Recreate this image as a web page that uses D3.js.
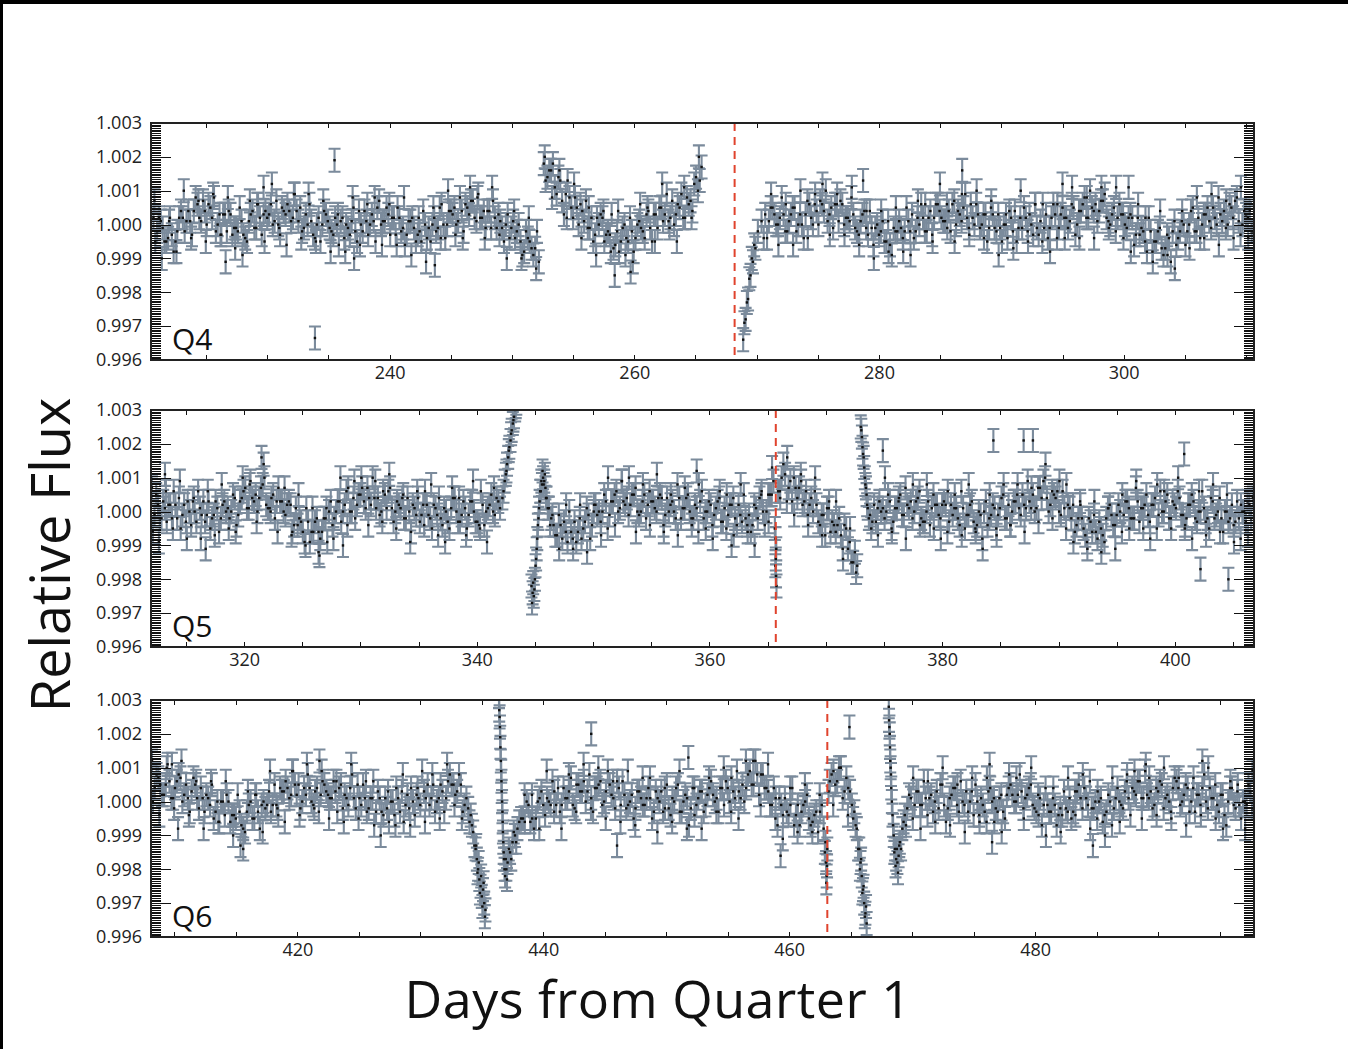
<!DOCTYPE html>
<html>
<head>
<meta charset="utf-8">
<script src="https://cdn.jsdelivr.net/npm/d3@7/dist/d3.min.js"></script>
<style>
    body { margin: 0; background: #fff; }
    svg { display: block; font-family: "Open Sans", sans-serif; }
</style>
</head>
<body>
<div id="chart"></div>
<script>

// [day, relative flux]
var q4Points = [
    [220.7,1.0002],[221.0,0.9998],[221.3,1.0001],[221.6,0.9995],[221.9,0.9996],[222.2,0.9997],[222.5,0.9995],[222.8,1.0002],
    [223.1,1.0002],[223.4,1.0001],[223.7,1.0001],[224.0,1.0004],[224.3,1.0006],[224.6,1.0001],[224.9,1.0004],[225.2,1.0006],
    [225.5,1.0002],[225.8,0.9998],[226.1,1.0003],[226.4,1.0003],[226.7,0.9998],[227.0,1.0003],[227.3,0.9999],[227.6,0.9998],
    [227.9,1.0001],[228.2,0.9996],[228.5,1.0001],[228.8,1.0004],[229.1,0.9999],[229.4,1.0002],[229.7,1.0003],[230.0,1.0002],
    [230.3,1.0006],[230.6,1.0001],[230.9,1.0000],[231.2,1.0005],[231.5,1.0003],[231.8,1.0004],[232.1,1.0002],[232.4,1.0004],
    [232.7,1.0005],[233.0,0.9999],[233.3,1.0000],[233.6,1.0001],[233.9,0.9996],[234.2,1.0002],[234.5,1.0000],[234.8,1.0003],
    [235.1,0.9999],[235.4,0.9997],[235.7,1.0000],[236.0,1.0001],[236.3,0.9996],[236.6,0.9999],[236.9,1.0001],[237.2,0.9998],
    [237.5,1.0004],[237.8,0.9998],[238.1,1.0001],[238.4,1.0000],[238.7,1.0001],[239.0,1.0005],[239.3,1.0000],[239.6,1.0001],
    [239.9,1.0003],[240.2,1.0002],[240.5,0.9997],[240.8,1.0002],[241.1,0.9999],[241.4,0.9997],[241.7,1.0001],[242.0,0.9999],
    [242.3,0.9997],[242.6,0.9995],[242.9,1.0000],[243.2,0.9999],[243.5,1.0000],[243.8,0.9998],[244.1,1.0005],[244.4,1.0000],
    [244.7,1.0000],[245.0,1.0004],[245.3,1.0005],[245.6,1.0001],[245.9,1.0004],[246.2,1.0006],[246.5,1.0003],[246.8,1.0007],
    [247.1,1.0001],[247.4,1.0002],[247.7,1.0004],[248.0,1.0004],[248.3,0.9999],[248.6,1.0002],[248.9,1.0003],[249.2,0.9999],
    [249.5,1.0000],[249.8,0.9996],[250.1,1.0001],[250.4,0.9998],[250.7,0.9995],[251.0,0.9992],[251.3,0.9996],[251.6,0.9993],
    [251.9,0.9993],[252.2,0.9989],
    [252.6,1.0018],[252.9,1.0014],[253.2,1.0016],[253.5,1.0011],[253.8,1.0014],[254.1,1.0007],[254.4,1.0009],[254.7,1.0008],
    [255.0,1.0002],[255.3,1.0005],[255.6,1.0006],[255.9,1.0001],[256.2,0.9999],[256.5,1.0002],[256.8,0.9997],[257.1,1.0000],
    [257.4,1.0002],[257.7,0.9997],[258.0,0.9997],[258.3,0.9993],[258.6,0.9998],[258.9,0.9995],[259.2,1.0000],[259.5,0.9995],
    [259.8,0.9998],[260.1,0.9996],[260.4,1.0001],[260.7,0.9998],[261.0,1.0003],[261.3,0.9999],[261.6,1.0003],[261.9,0.9999],
    [262.2,1.0005],[262.5,1.0003],[262.8,1.0001],[263.1,1.0007],[263.4,1.0003],[263.7,1.0005],[264.0,1.0002],[264.3,1.0008],
    [264.6,1.0007],[264.9,1.0012],[265.2,1.0010],[265.5,1.0017],
    [268.9,0.9966],[269.0,0.9971],[269.1,0.9972],[269.2,0.9977],[269.3,0.9978],[269.4,0.9984],[269.5,0.9985],[269.6,0.9990],
    [269.7,0.9989],[269.8,0.9994],[269.9,0.9993],[270.1,0.9998],[270.4,1.0001],
    [270.7,1.0003],[271.0,1.0001],[271.3,1.0005],[271.6,1.0000],[271.9,1.0002],[272.2,1.0003],[272.5,0.9998],[272.8,1.0003],
    [273.1,1.0005],[273.4,1.0000],[273.7,1.0000],[274.0,1.0003],[274.3,1.0006],[274.6,1.0000],[274.9,1.0004],[275.2,1.0007],
    [275.5,1.0004],[275.8,1.0001],[276.1,1.0005],[276.4,1.0006],[276.7,1.0001],[277.0,1.0006],[277.3,1.0002],[277.6,1.0001],
    [277.9,1.0003],[278.2,0.9998],[278.5,1.0001],[278.8,1.0004],[279.1,0.9997],[279.4,0.9999],[279.7,0.9999],[280.0,0.9997],
    [280.3,1.0001],[280.6,0.9995],[280.9,0.9994],[281.2,0.9999],[281.5,0.9998],[281.8,0.9999],[282.1,0.9998],[282.4,1.0001],
    [282.7,1.0003],[283.0,0.9998],[283.3,1.0000],[283.6,1.0002],[283.9,0.9998],[284.2,1.0004],[284.5,1.0002],[284.8,1.0006],
    [285.1,1.0002],[285.4,1.0001],[285.7,1.0004],[286.0,1.0006],[286.3,1.0000],[286.6,1.0003],[286.9,1.0005],[287.2,1.0002],
    [287.5,1.0006],[287.8,1.0000],[288.1,1.0003],[288.4,1.0000],[288.7,1.0003],[289.0,0.9999],[289.3,1.0003],[289.6,0.9998],
    [289.9,0.9999],[290.2,1.0000],[290.5,0.9996],[290.8,1.0002],[291.1,1.0004],[291.4,0.9999],[291.7,0.9999],[292.0,1.0002],
    [292.3,1.0003],[292.6,0.9997],[292.9,0.9999],[293.2,1.0001],[293.5,0.9999],[293.8,0.9996],[294.1,1.0002],[294.4,1.0003],
    [294.7,0.9999],[295.0,1.0005],[295.3,1.0002],[295.6,1.0001],[295.9,1.0005],[296.2,1.0000],[296.5,1.0004],[296.8,1.0008],
    [297.1,1.0002],[297.4,1.0005],[297.7,1.0006],[298.0,1.0004],[298.3,1.0007],[298.6,1.0002],[298.9,1.0000],[299.2,1.0005],
    [299.5,1.0002],[299.8,1.0003],[300.1,1.0000],[300.4,1.0002],[300.7,1.0002],[301.0,0.9997],[301.3,0.9997],[301.6,0.9998],
    [301.9,0.9992],[302.2,0.9998],[302.5,0.9995],[302.8,0.9998],[303.1,0.9993],[303.4,0.9993],[303.7,0.9996],[304.0,0.9998],
    [304.3,0.9994],[304.6,0.9998],[304.9,1.0000],[305.2,0.9998],[305.5,1.0004],[305.8,0.9998],[306.1,1.0002],[306.4,1.0000],
    [306.7,1.0003],[307.0,1.0001],[307.3,1.0005],[307.6,1.0000],[307.9,1.0003],[308.2,1.0004],[308.5,1.0000],[308.8,1.0005],
    [309.1,1.0007],[309.4,1.0001],[309.7,1.0000],[310.0,1.0003],[310.3,1.0004],[310.6,0.9998],
    // interleaved cadence
    [220.85,0.9995],[221.15,1.0002],[221.45,0.9999],[221.75,0.9995],[222.05,1.0002],[222.35,0.9992],[222.65,0.9998],[222.95,1.0004],
    [223.25,0.9998],[223.55,1.0004],[223.85,0.9997],[224.15,1.0008],[224.45,1.0002],[224.75,1.0007],[225.05,1.0000],[225.35,1.0005],
    [225.65,1.0008],[225.95,1.0000],[226.25,0.9997],[226.55,1.0003],[226.85,1.0004],[227.15,0.9997],[227.45,0.9999],[227.75,1.0005],
    [228.05,0.9997],[228.35,0.9995],[228.65,1.0003],[228.95,0.9999],[229.25,1.0006],[229.55,0.9997],[229.85,1.0004],[230.15,1.0003],
    [230.45,1.0000],[230.75,1.0007],[231.05,0.9997],[231.35,1.0004],[231.65,1.0006],[231.95,1.0001],[232.25,1.0009],[232.55,1.0001],
    [232.85,0.9998],[233.15,1.0003],[233.45,1.0006],[233.75,0.9997],[234.05,1.0000],[234.35,0.9995],[234.65,1.0004],[234.95,1.0001],
    [235.25,0.9998],[235.55,1.0002],[235.85,0.9994],[236.15,1.0002],[236.45,1.0000],[236.75,0.9997],[237.05,1.0005],[237.35,0.9995],
    [237.65,1.0000],[237.95,1.0004],[238.25,0.9997],[238.55,1.0003],[238.85,0.9995],[239.15,1.0007],[239.45,1.0001],[239.75,1.0005],
    [240.05,0.9997],[240.35,1.0002],[240.65,1.0005],[240.95,0.9998],[241.25,0.9994],[241.55,1.0001],[241.85,1.0002],[242.15,0.9995],
    [242.45,0.9998],[242.75,1.0004],[243.05,0.9996],[243.35,0.9995],[243.65,1.0002],[243.95,0.9999],[244.25,1.0006],[244.55,0.9996],
    [244.85,1.0004],[245.15,1.0003],[245.45,1.0000],[245.75,1.0008],[246.05,0.9998],[246.35,1.0005],[246.65,1.0007],[246.95,1.0002],
    [247.25,1.0009],[247.55,1.0002],[247.85,0.9999],[248.15,1.0004],[248.45,1.0007],[248.75,0.9999],[249.05,1.0001],[249.35,0.9995],
    [249.65,1.0003],[249.95,0.9999],[250.25,0.9996],[250.55,1.0000],[250.85,0.9991],[251.15,0.9998],[251.45,0.9995],[251.75,0.9991],
    [252.05,0.9998],
    [252.75,1.0013],[253.05,1.0016],[253.35,1.0018],[253.65,1.0009],[253.95,1.0013],[254.25,1.0003],[254.55,1.0013],[254.85,1.0005],
    [255.15,1.0008],[255.45,1.0000],[255.75,1.0004],[256.05,1.0007],[256.35,0.9999],[256.65,0.9995],[256.95,1.0002],[257.25,1.0003],
    [257.55,0.9995],[257.85,0.9998],[258.15,1.0003],[258.45,0.9994],[258.75,0.9992],[259.05,0.9999],[259.35,0.9996],[259.65,1.0002],
    [259.95,0.9992],[260.25,1.0000],[260.55,0.9999],[260.85,0.9996],[261.15,1.0004],[261.45,0.9995],[261.75,1.0003],[262.05,1.0005],
    [262.35,1.0001],[262.65,1.0009],[262.95,1.0002],[263.25,1.0000],[263.55,1.0006],[263.85,1.0009],[264.15,1.0002],[264.45,1.0006],
    [264.75,1.0004],[265.05,1.0014],[265.35,1.0013],
    [270.85,0.9996],[271.15,1.0005],[271.45,1.0003],[271.75,1.0000],[272.05,1.0008],[272.35,0.9998],[272.65,1.0001],[272.95,1.0005],
    [273.25,0.9998],[273.55,1.0003],[273.85,0.9996],[274.15,1.0007],[274.45,1.0002],[274.75,1.0006],[275.05,1.0000],[275.35,1.0006],
    [275.65,1.0010],[275.95,1.0003],[276.25,0.9999],[276.55,1.0006],[276.85,1.0007],[277.15,1.0000],[277.45,1.0002],[277.75,1.0008],
    [278.05,0.9999],[278.35,0.9997],[278.65,1.0003],[278.95,0.9999],[279.25,1.0004],[279.55,0.9994],[279.85,1.0000],[280.15,0.9998],
    [280.45,0.9995],[280.75,1.0001],[281.05,0.9991],[281.35,0.9998],[281.65,1.0001],[281.95,0.9996],[282.25,1.0005],[282.55,0.9998],
    [282.85,0.9996],[283.15,1.0002],[283.45,1.0006],[283.75,0.9998],[284.05,1.0002],[284.35,0.9997],[284.65,1.0006],[284.95,1.0004],
    [285.25,1.0001],[285.55,1.0006],[285.85,0.9998],[286.15,1.0007],[286.45,1.0004],[286.75,1.0001],[287.05,1.0009],[287.35,0.9999],
    [287.65,1.0002],[287.95,1.0006],[288.25,0.9999],[288.55,1.0003],[288.85,0.9995],[289.15,1.0005],[289.45,0.9999],[289.75,1.0003],
    [290.05,0.9995],[290.35,1.0000],[290.65,1.0004],[290.95,0.9998],[291.25,0.9995],[291.55,1.0002],[291.85,1.0005],[292.15,0.9998],
    [292.45,1.0000],[292.75,1.0006],[293.05,0.9997],[293.35,0.9995],[293.65,1.0003],[293.95,0.9999],[294.25,1.0006],[294.55,0.9996],
    [294.85,1.0003],[295.15,1.0002],[295.45,0.9999],[295.75,1.0006],[296.05,0.9997],[296.35,1.0004],[296.65,1.0006],[296.95,1.0002],
    [297.25,1.0010],[297.55,1.0004],[297.85,1.0001],[298.15,1.0007],[298.45,1.0009],[298.75,1.0001],[299.05,1.0003],[299.35,0.9998],
    [299.65,1.0006],[299.95,1.0003],[300.25,0.9999],[300.55,1.0003],[300.85,0.9994],[301.15,1.0002],[301.45,0.9999],[301.75,0.9995],
    [302.05,1.0002],[302.35,0.9992],[302.65,0.9995],[302.95,0.9999],[303.25,0.9991],[303.55,0.9997],[303.85,0.9989],[304.15,1.0001],
    [304.45,0.9996],[304.75,1.0001],[305.05,0.9994],[305.35,1.0000],[305.65,1.0005],[305.95,0.9998],[306.25,0.9996],[306.55,1.0003],
    [306.85,1.0005],[307.15,0.9999],[307.45,1.0002],[307.75,1.0008],[308.05,1.0001],[308.35,0.9999],[308.65,1.0006],[308.95,1.0002],
    [309.25,1.0008],[309.55,0.9997],[309.85,1.0004],[310.15,1.0002],[310.45,0.9998],
    // wider scatter
    [220.78,1.0007],[221.38,0.9990],[221.98,1.0001],[222.58,0.9992],[223.18,1.0010],[223.78,0.9996],[224.38,1.0007],[224.98,0.9995],
    [225.58,1.0009],[226.18,0.9997],[226.78,1.0008],[227.38,0.9993],[227.98,0.9991],[228.58,1.0007],[229.18,1.0006],[229.78,0.9995],
    [230.38,1.0012],[230.98,0.9999],[231.58,0.9994],[232.18,1.0009],[232.78,0.9996],[233.38,1.0009],[233.98,0.9995],[234.58,1.0007],
    [235.18,0.9992],[235.78,1.0003],[236.38,0.9992],[236.98,1.0008],[237.58,0.9994],[238.18,1.0006],[238.78,1.0008],[239.38,0.9994],
    [239.98,1.0006],[240.58,0.9994],[241.18,1.0008],[241.78,0.9991],[242.38,1.0002],[242.98,0.9989],[243.58,1.0005],[244.18,0.9996],
    [244.78,1.0010],[245.38,0.9997],[245.98,0.9996],[246.58,1.0011],[247.18,1.0008],[247.78,0.9996],[248.38,1.0011],[248.98,0.9997],
    [249.58,0.9990],[250.18,1.0004],[250.78,0.9990],[251.38,1.0002],[251.98,0.9987],
    [252.68,1.0020],[253.28,1.0008],[253.88,1.0016],[254.48,1.0002],[255.08,1.0012],[255.68,0.9996],[256.28,1.0005],[256.88,0.9991],
    [257.48,1.0004],[258.08,0.9992],[258.68,1.0004],[259.28,0.9991],[259.88,0.9989],[260.48,1.0006],[261.08,1.0005],[261.68,0.9995],
    [262.28,1.0012],[262.88,0.9999],[263.48,0.9995],[264.08,1.0011],[264.68,1.0002],[265.28,1.0020],
    [270.58,0.9996],[271.18,1.0009],[271.78,0.9994],[272.38,1.0006],[272.98,0.9994],[273.58,1.0010],[274.18,0.9996],[274.78,1.0009],
    [275.38,1.0012],[275.98,0.9997],[276.58,1.0009],[277.18,0.9997],[277.78,1.0011],[278.38,0.9994],[278.98,1.0004],[279.58,0.9990],
    [280.18,1.0004],[280.78,0.9992],[281.38,1.0005],[281.98,0.9992],[282.58,0.9991],[283.18,1.0007],[283.78,1.0006],[284.38,0.9995],
    [284.98,1.0012],[285.58,0.9999],[286.18,0.9995],[286.78,1.0009],[287.38,0.9997],[287.98,1.0010],[288.58,0.9996],[289.18,1.0007],
    [289.78,0.9991],[290.38,1.0003],[290.98,0.9993],[291.58,1.0010],[292.18,0.9995],[292.78,1.0006],[293.38,1.0006],[293.98,0.9992],
    [294.58,1.0006],[295.18,0.9996],[295.78,1.0011],[296.38,0.9996],[296.98,1.0008],[297.58,0.9996],[298.18,1.0011],[298.78,0.9999],
    [299.38,1.0011],[299.98,0.9996],[300.58,0.9992],[301.18,1.0006],[301.78,1.0002],[302.38,0.9989],[302.98,1.0004],[303.58,0.9991],
    [304.18,0.9987],[304.78,1.0004],[305.38,0.9993],[305.98,1.0008],[306.58,0.9996],[307.18,1.0009],[307.78,0.9994],[308.38,1.0007],
    [308.98,0.9996],[309.58,1.0011],[310.18,0.9996],
    // isolated points
    [233.9,0.99665],[235.5,1.0019],[258.4,0.9985],[259.7,0.9986],[278.7,1.0013],[286.8,1.0016],[295.0,1.0012],
    [300.4,1.0011],[226.6,0.9989],[237.1,0.9990],[243.7,0.9988],[229.7,1.0011]
];

var q5Points = [
    [312.0,1.0002],[312.3,0.9999],[312.6,1.0002],[312.9,0.9998],[313.2,1.0001],[313.5,1.0002],[313.8,0.9998],[314.1,1.0002],
    [314.4,1.0004],[314.7,0.9999],[315.0,0.9997],[315.3,1.0000],[315.6,1.0003],[315.9,0.9997],[316.2,1.0001],[316.5,1.0003],
    [316.8,0.9999],[317.1,0.9995],[317.4,0.9999],[317.7,1.0001],[318.0,0.9998],[318.3,1.0003],[318.6,1.0001],[318.9,1.0000],
    [319.2,1.0004],[319.5,0.9999],[319.8,1.0004],[320.1,1.0007],[320.4,1.0001],[320.7,1.0004],[321.0,1.0005],[321.3,1.0004],
    [321.6,1.0008],[321.9,1.0002],[322.2,1.0001],[322.5,1.0005],[322.8,1.0003],[323.1,1.0003],[323.4,1.0000],[323.7,1.0002],
    [324.0,1.0002],[324.3,0.9996],[324.6,0.9996],[324.9,0.9997],[325.2,0.9991],[325.5,0.9997],[325.8,0.9994],[326.1,0.9997],
    [326.4,0.9994],[326.7,0.9994],[327.0,0.9998],[327.3,1.0000],[327.6,0.9996],[327.9,1.0000],[328.2,1.0003],[328.5,1.0000],
    [328.8,1.0006],[329.1,1.0000],[329.4,1.0004],[329.7,1.0002],[330.0,1.0005],[330.3,1.0003],[330.6,1.0007],[330.9,1.0002],
    [331.2,1.0004],[331.5,1.0004],[331.8,1.0000],[332.1,1.0005],[332.4,1.0006],[332.7,1.0001],[333.0,1.0000],[333.3,1.0002],
    [333.6,1.0004],[333.9,0.9998],[334.2,1.0000],[334.5,1.0002],[334.8,0.9999],[335.1,0.9997],[335.4,1.0002],[335.7,1.0002],
    [336.0,0.9998],[336.3,1.0002],[336.6,0.9999],[336.9,0.9998],[337.2,1.0001],[337.5,0.9997],[337.8,1.0001],[338.1,1.0004],
    [338.4,0.9997],[338.7,0.9999],[339.0,1.0001],[339.3,0.9999],[339.6,1.0003],[339.9,0.9997],[340.2,0.9996],[340.5,1.0002],
    [340.8,1.0000],[341.1,1.0002],[341.4,1.0000],[341.7,1.0004],[342.0,1.0001],[342.2,1.0004],[342.4,1.0009],[342.5,1.0011],
    [342.6,1.0014],[342.7,1.0016],[342.8,1.0019],[342.9,1.0021],[343.0,1.0024],[343.1,1.0026],[343.2,1.0028],[343.3,1.0030],
    [343.4,1.0032],[343.5,1.0034],
    [344.7,0.9978],[344.8,0.9976],[344.9,0.9975],[345.0,0.9980],[345.1,0.9986],[345.2,0.9992],[345.3,0.9998],[345.4,1.0003],
    [345.5,1.0006],[345.6,1.0008],[345.7,1.0010],[345.8,1.0009],[345.9,1.0007],[346.0,1.0004],[346.2,1.0001],[346.4,0.9998],
    [346.6,0.9996],
    [346.9,0.9993],[347.2,0.9996],[347.5,0.9997],[347.8,0.9991],[348.1,0.9994],[348.4,0.9997],[348.7,0.9994],[349.0,0.9992],
    [349.3,0.9997],[349.6,0.9999],[349.9,0.9996],[350.2,1.0002],[350.5,1.0000],[350.8,1.0000],[351.1,1.0003],[351.4,0.9999],
    [351.7,1.0003],[352.0,1.0006],[352.3,1.0001],[352.6,1.0003],[352.9,1.0004],[353.2,1.0002],[353.5,1.0005],[353.8,1.0000],
    [354.1,1.0000],[354.4,1.0005],[354.7,1.0002],[355.0,1.0003],[355.3,1.0001],[355.6,1.0004],[355.9,1.0004],[356.2,0.9999],
    [356.5,1.0000],[356.8,1.0003],[357.1,0.9998],[357.4,1.0004],[357.7,1.0001],[358.0,1.0004],[358.3,1.0000],[358.6,0.9998],
    [358.9,1.0001],[359.2,1.0003],[359.5,0.9998],[359.8,1.0000],[360.1,1.0002],[360.4,0.9999],[360.7,1.0003],[361.0,0.9997],
    [361.3,1.0001],[361.6,0.9999],[361.9,1.0002],[362.2,0.9998],[362.5,1.0002],[362.8,0.9997],[363.1,0.9998],[363.4,0.9999],
    [363.7,0.9996],[364.0,1.0001],[364.3,1.0004],[364.6,1.0000],[364.9,1.0000],[365.2,1.0005],[365.5,1.0009],
    [365.68,0.9992],[365.70,0.9986],[365.72,0.9981],[365.74,0.9989],
    [365.9,1.0006],[366.2,1.0010],[366.5,1.0011],[366.8,1.0007],[367.1,1.0003],[367.4,1.0007],[367.7,1.0007],[368.0,1.0002],
    [368.3,1.0006],[368.6,1.0002],[368.9,1.0000],[369.2,1.0002],[369.5,0.9996],[369.8,0.9999],[370.1,1.0001],[370.4,0.9994],
    [370.7,0.9996],[371.0,0.9996],[371.3,0.9993],[371.6,0.9996],[371.9,0.9989],[372.2,0.9985],[372.5,0.9988],[372.7,0.9984],
    [373.0,1.0025],[373.1,1.0022],[373.2,1.0017],[373.3,1.0013],[373.4,1.0008],[373.5,1.0005],[373.6,1.0001],[373.8,0.9999],
    [374.0,0.9997],
    [374.3,0.9997],[374.6,1.0003],[374.9,1.0001],[375.2,1.0000],[375.5,1.0003],[375.8,0.9997],[376.1,1.0001],[376.4,1.0005],
    [376.7,0.9999],[377.0,1.0002],[377.3,1.0003],[377.6,1.0000],[377.9,1.0004],[378.2,0.9998],[378.5,0.9997],[378.8,1.0003],
    [379.1,1.0001],[379.4,1.0002],[379.7,0.9999],[380.0,1.0002],[380.3,1.0002],[380.6,0.9997],[380.9,0.9999],[381.2,1.0001],
    [381.5,0.9996],[381.8,1.0001],[382.1,0.9999],[382.4,1.0002],[382.7,0.9997],[383.0,0.9996],[383.3,0.9999],[383.6,1.0000],
    [383.9,0.9996],[384.2,0.9999],[384.5,1.0001],[384.8,0.9999],[385.1,1.0004],[385.4,0.9998],[385.7,1.0002],[386.0,1.0000],
    [386.3,1.0003],[386.6,1.0001],[386.9,1.0005],[387.2,1.0001],[387.5,1.0003],[387.8,1.0005],[388.1,1.0001],[388.4,1.0007],
    [388.7,1.0009],[389.0,1.0004],[389.3,1.0002],[389.6,1.0005],[389.9,1.0006],[390.2,0.9999],[390.5,1.0001],[390.8,1.0002],
    [391.1,0.9998],[391.4,0.9994],[391.7,0.9998],[392.0,0.9998],[392.3,0.9993],[392.6,0.9998],[392.9,0.9994],[393.2,0.9994],
    [393.5,0.9997],[393.8,0.9993],[394.1,0.9998],[394.4,1.0002],[394.7,0.9996],[395.0,0.9999],[395.3,1.0000],[395.6,0.9999],
    [395.9,1.0003],[396.2,0.9998],[396.5,0.9998],[396.8,1.0003],[397.1,1.0001],[397.4,1.0002],[397.7,0.9999],[398.0,1.0002],
    [398.3,1.0004],[398.6,0.9999],[398.9,1.0000],[399.2,1.0003],[399.5,0.9998],[399.8,1.0003],[400.1,1.0001],[400.4,1.0004],
    [400.7,0.9999],[401.0,0.9998],[401.3,1.0002],[401.6,1.0003],[401.9,0.9997],[402.2,1.0000],[402.5,1.0001],[402.8,0.9998],
    [403.1,1.0004],[403.4,0.9998],[403.7,1.0000],[404.0,0.9998],[404.3,1.0000],[404.6,0.9997],[404.9,1.0002],[405.2,0.9997],
    [405.5,0.9998],[405.8,1.0000],[406.1,0.9997],[406.4,1.0002],[406.7,1.0004],
    // interleaved cadence
    [312.15,0.9994],[312.45,1.0005],[312.75,0.9998],[313.05,1.0003],[313.35,0.9997],[313.65,1.0002],[313.95,1.0006],[314.25,0.9998],
    [314.55,0.9995],[314.85,1.0002],[315.15,1.0003],[315.45,0.9996],[315.75,1.0000],[316.05,1.0006],[316.35,0.9999],[316.65,0.9997],
    [316.95,1.0003],[317.25,0.9998],[317.55,1.0003],[317.85,0.9994],[318.15,1.0002],[318.45,1.0000],[318.75,0.9998],[319.05,1.0005],
    [319.35,0.9996],[319.65,1.0003],[319.95,1.0006],[320.25,1.0001],[320.55,1.0009],[320.85,1.0003],[321.15,1.0000],[321.45,1.0007],
    [321.75,1.0010],[322.05,1.0001],[322.35,1.0004],[322.65,0.9998],[322.95,1.0007],[323.25,1.0003],[323.55,0.9999],[323.85,1.0003],
    [324.15,0.9994],[324.45,1.0001],[324.75,0.9998],[325.05,0.9994],[325.35,1.0001],[325.65,0.9991],[325.95,0.9994],[326.25,0.9998],
    [326.55,0.9992],[326.85,0.9998],[327.15,0.9991],[327.45,1.0003],[327.75,0.9998],[328.05,1.0003],[328.35,0.9997],[328.65,1.0002],
    [328.95,1.0007],[329.25,1.0000],[329.55,0.9998],[329.85,1.0005],[330.15,1.0007],[330.45,1.0001],[330.75,1.0004],[331.05,1.0010],
    [331.35,1.0001],[331.65,0.9999],[331.95,1.0006],[332.25,1.0001],[332.55,1.0007],[332.85,0.9997],[333.15,1.0003],[333.45,1.0001],
    [333.75,0.9998],[334.05,1.0004],[334.35,0.9994],[334.65,1.0001],[334.95,1.0004],[335.25,0.9999],[335.55,1.0006],[335.85,0.9999],
    [336.15,0.9995],[336.45,1.0001],[336.75,1.0004],[337.05,0.9996],[337.35,1.0000],[337.65,0.9995],[337.95,1.0004],[338.25,1.0000],
    [338.55,0.9997],[338.85,1.0003],[339.15,0.9995],[339.45,1.0003],[339.75,1.0000],[340.05,0.9997],[340.35,1.0006],[340.65,0.9996],
    [340.95,1.0001],[341.25,1.0005],[341.55,0.9999],[341.85,1.0003],
    [342.3,1.0006],[342.55,1.0012],[342.75,1.0018],[342.95,1.0023],[343.15,1.0027],[343.35,1.0031],
    [344.75,0.9973],[344.85,0.9979],[344.95,0.9977],[345.05,0.9984],[345.15,0.9989],[345.25,0.9996],[345.35,1.0001],[345.45,1.0006],
    [345.55,1.0009],[345.65,1.0012],[345.75,1.0008],[345.85,1.0011],[345.95,1.0004],[346.1,1.0001],[346.3,0.9996],[346.5,0.9999],
    [346.75,0.9993],
    [347.05,0.9999],[347.35,0.9992],[347.65,0.9994],[347.95,1.0000],[348.25,0.9992],[348.55,0.9991],[348.85,0.9998],[349.15,0.9995],
    [349.45,1.0001],[349.75,0.9992],[350.05,1.0000],[350.35,0.9999],[350.65,0.9997],[350.95,1.0005],[351.25,0.9995],[351.55,1.0003],
    [351.85,1.0005],[352.15,1.0000],[352.45,1.0009],[352.75,1.0002],[353.05,0.9999],[353.35,1.0005],[353.65,1.0007],[353.95,0.9999],
    [354.25,1.0003],[354.55,0.9998],[354.85,1.0006],[355.15,1.0003],[355.45,1.0000],[355.75,1.0005],[356.05,0.9996],[356.35,1.0004],
    [356.65,1.0002],[356.95,1.0000],[357.25,1.0008],[357.55,0.9998],[357.85,1.0001],[358.15,1.0005],[358.45,0.9998],[358.75,1.0002],
    [359.05,0.9994],[359.35,1.0006],[359.65,1.0000],[359.95,1.0003],[360.25,0.9996],[360.55,1.0001],[360.85,1.0004],[361.15,0.9997],
    [361.45,0.9995],[361.75,1.0002],[362.05,1.0004],[362.35,0.9996],[362.65,0.9999],[362.95,1.0005],[363.25,0.9996],[363.55,0.9994],
    [363.85,1.0002],[364.15,0.9998],[364.45,1.0005],[364.75,0.9996],[365.05,1.0005],[365.35,1.0005],
    [365.62,0.9995],[365.66,0.9984],[365.76,0.9978],
    [366.05,1.0006],[366.35,1.0014],[366.65,1.0003],[366.95,1.0009],[367.25,1.0010],[367.55,1.0004],[367.85,1.0011],[368.15,1.0003],
    [368.45,0.9999],[368.75,1.0004],[369.05,1.0006],[369.35,0.9997],[369.65,0.9999],[369.95,0.9993],[370.25,1.0001],[370.55,0.9997],
    [370.85,0.9994],[371.15,0.9998],[371.45,0.9989],[371.75,0.9995],[372.05,0.9991],[372.35,0.9985],[372.6,0.9982],
    [373.05,1.0024],[373.15,1.0019],[373.25,1.0016],[373.35,1.0010],[373.45,1.0007],[373.55,1.0002],[373.7,0.9998],[373.9,0.9995],
    [374.15,1.0002],
    [374.45,1.0001],[374.75,1.0000],[375.05,0.9998],[375.35,1.0005],[375.65,0.9995],[375.95,1.0001],[376.25,1.0003],[376.55,0.9999],
    [376.85,1.0007],[377.15,1.0001],[377.45,0.9998],[377.75,1.0003],[378.05,1.0006],[378.35,0.9997],[378.65,1.0000],[378.95,0.9996],
    [379.25,1.0005],[379.55,1.0002],[379.85,0.9998],[380.15,1.0003],[380.45,0.9994],[380.75,1.0002],[381.05,1.0001],[381.35,0.9998],
    [381.65,1.0006],[381.95,0.9995],[382.25,0.9999],[382.55,1.0003],[382.85,0.9995],[383.15,1.0000],[383.45,0.9992],[383.75,1.0003],
    [384.05,0.9998],[384.35,1.0002],[384.65,0.9995],[384.95,1.0001],[385.25,1.0005],[385.55,0.9998],[385.85,0.9996],[386.15,1.0003],
    [386.45,1.0005],[386.75,0.9999],[387.05,1.0002],[387.35,1.0009],[387.65,1.0001],[387.95,1.0000],[388.25,1.0007],[388.55,1.0004],
    [388.85,1.0010],[389.15,1.0000],[389.45,1.0006],[389.75,1.0004],[390.05,1.0000],[390.35,1.0006],[390.65,0.9995],[390.95,1.0001],
    [391.25,1.0002],[391.55,0.9996],[391.85,1.0003],[392.15,0.9995],[392.45,0.9991],[392.75,0.9997],[393.05,0.9999],[393.35,0.9992],
    [393.65,0.9995],[393.95,0.9991],[394.25,1.0001],[394.55,0.9999],[394.85,0.9996],[395.15,1.0002],[395.45,0.9994],[395.75,1.0003],
    [396.05,1.0001],[396.35,0.9998],[396.65,1.0007],[396.95,0.9997],[397.25,1.0001],[397.55,1.0005],[397.85,0.9997],[398.15,1.0002],
    [398.45,0.9995],[398.75,1.0006],[399.05,1.0000],[399.35,1.0005],[399.65,0.9998],[399.95,1.0002],[400.25,1.0006],[400.55,0.9999],
    [400.85,0.9995],[401.15,1.0002],[401.45,1.0005],[401.75,0.9998],[402.05,1.0000],[402.35,1.0006],[402.65,0.9997],[402.95,0.9995],
    [403.25,1.0003],[403.55,0.9999],[403.85,1.0004],[404.15,0.9994],[404.45,1.0000],[404.75,0.9998],[405.05,0.9996],[405.35,1.0003],
    [405.65,0.9992],[405.95,1.0000],[406.25,1.0003],[406.55,0.9998],
    // wider scatter
    [312.08,1.0007],[312.68,0.9991],[313.28,1.0006],[313.88,0.9995],[314.48,1.0009],[315.08,0.9992],[315.68,1.0004],[316.28,0.9992],
    [316.88,1.0006],[317.48,0.9993],[318.08,1.0008],[318.68,0.9995],[319.28,0.9994],[319.88,1.0010],[320.48,1.0008],[321.08,0.9997],
    [321.68,1.0014],[322.28,1.0000],[322.88,0.9994],[323.48,1.0007],[324.08,0.9993],[324.68,1.0005],[325.28,0.9990],[325.88,1.0001],
    [326.48,0.9987],[327.08,1.0001],[327.68,0.9992],[328.28,1.0010],[328.88,0.9996],[329.48,1.0009],[330.08,1.0010],[330.68,0.9996],
    [331.28,1.0009],[331.88,0.9997],[332.48,1.0011],[333.08,0.9995],[333.68,1.0005],[334.28,0.9991],[334.88,1.0006],[335.48,0.9996],
    [336.08,1.0008],[336.68,0.9993],[337.28,0.9991],[337.88,1.0007],[338.48,1.0004],[339.08,0.9993],[339.68,1.0009],[340.28,0.9995],
    [340.88,0.9991],[341.48,1.0007],
    [347.08,0.9989],[347.68,1.0002],[348.28,0.9989],[348.88,1.0002],[349.48,0.9988],[350.08,1.0002],[350.68,0.9993],[351.28,1.0010],
    [351.88,0.9996],[352.48,1.0009],[353.08,1.0010],[353.68,0.9994],[354.28,1.0008],[354.88,0.9996],[355.48,1.0011],[356.08,0.9994],
    [356.68,1.0005],[357.28,0.9993],[357.88,1.0007],[358.48,0.9996],[359.08,1.0008],[359.68,0.9995],[360.28,0.9992],[360.88,1.0006],
    [361.48,1.0005],[362.08,0.9993],[362.68,1.0008],[363.28,0.9994],[363.88,0.9990],[364.48,1.0006],[365.08,0.9997],[365.38,1.0013],
    [366.08,1.0004],[366.68,1.0016],[367.28,0.9999],[367.88,1.0009],[368.48,0.9996],[369.08,1.0010],[369.68,0.9993],[370.28,1.0003],
    [370.88,1.0003],[371.48,0.9986],[372.08,0.9995],
    [374.48,0.9993],[375.08,1.0010],[375.68,0.9994],[376.28,1.0004],[376.88,0.9992],[377.48,1.0008],[378.08,0.9996],[378.68,1.0008],
    [379.28,0.9995],[379.88,0.9992],[380.48,1.0006],[381.08,1.0005],[381.68,0.9993],[382.28,1.0008],[382.88,0.9994],[383.48,0.9989],
    [384.08,1.0005],[384.68,0.9993],[385.28,1.0008],[385.88,0.9996],[386.48,1.0008],[387.08,0.9994],[387.68,1.0007],[388.28,0.9997],
    [388.88,1.0014],[389.48,0.9998],[390.08,1.0009],[390.68,1.0008],[391.28,0.9991],[391.88,1.0002],[392.48,0.9989],[393.08,1.0003],
    [393.68,0.9988],[394.28,1.0001],[394.88,0.9989],[395.48,1.0005],[396.08,0.9995],[396.68,1.0009],[397.28,0.9995],[397.88,0.9992],
    [398.48,1.0008],[399.08,1.0006],[399.68,0.9995],[400.28,1.0010],[400.88,0.9996],[401.48,0.9992],[402.08,1.0006],[402.68,0.9993],
    [403.28,1.0008],[403.88,0.9994],[404.48,1.0005],[405.08,0.9991],[405.68,1.0002],[406.28,0.9993],
    // isolated points
    [313.2,1.0011],[316.7,0.9989],[321.5,1.0016],[326.4,0.9988],[328.5,0.9990],[374.9,1.0018],[384.4,1.0021],
    [387.0,1.0021],[387.8,1.0021],[400.8,1.0017],[402.2,0.9983],[404.6,0.9980],[358.9,1.0012],[361.9,0.9990]
];

var q6Points = [
    [408.1,1.0007],[408.4,1.0004],[408.7,1.0007],[409.0,1.0002],[409.3,1.0005],[409.6,1.0006],[409.9,1.0001],[410.2,1.0006],
    [410.5,1.0007],[410.8,1.0002],[411.1,1.0001],[411.4,1.0003],[411.7,1.0005],[412.0,0.9998],[412.3,1.0001],[412.6,1.0002],
    [412.9,0.9999],[413.2,0.9995],[413.5,1.0000],[413.8,1.0000],[414.1,0.9996],[414.4,1.0000],[414.7,0.9996],[415.0,0.9995],
    [415.3,0.9997],[415.6,0.9992],[415.9,0.9997],[416.2,1.0000],[416.5,0.9995],[416.8,0.9997],[417.1,0.9999],[417.4,0.9998],
    [417.7,1.0003],[418.0,0.9999],[418.3,0.9999],[418.6,1.0004],[418.9,1.0003],[419.2,1.0004],[419.5,1.0002],[419.8,1.0005],
    [420.1,1.0005],[420.4,1.0000],[420.7,1.0002],[421.0,1.0004],[421.3,0.9999],[421.6,1.0004],[421.9,1.0002],[422.2,1.0005],
    [422.5,1.0002],[422.8,1.0001],[423.1,1.0003],[423.4,1.0004],[423.7,0.9998],[424.0,1.0001],[424.3,1.0004],[424.6,1.0001],
    [424.9,1.0005],[425.2,0.9999],[425.5,1.0001],[425.8,0.9998],[426.1,1.0001],[426.4,0.9997],[426.7,1.0001],[427.0,0.9996],
    [427.3,0.9998],[427.6,1.0000],[427.9,0.9996],[428.2,1.0001],[428.5,1.0003],[428.8,0.9999],[429.1,0.9998],[429.4,1.0000],
    [429.7,1.0002],[430.0,0.9999],[430.3,1.0003],[430.6,1.0005],[430.9,1.0001],[431.2,0.9997],[431.5,1.0001],[431.8,1.0003],
    [432.1,1.0001],[432.4,1.0008],[432.7,1.0005],[433.0,1.0003],[433.3,1.0005],[433.6,0.9999],[433.9,0.9998],[434.1,0.9996],
    [434.3,0.9991],[434.5,0.9986],[434.6,0.9983],[434.7,0.9980],[434.8,0.9977],[434.9,0.9975],[435.0,0.9972],[435.1,0.9974],
    [435.2,0.9970],[435.3,0.9968],
    [436.40,1.0031],[436.45,1.0025],[436.50,1.0019],[436.55,1.0012],[436.60,1.0006],[436.65,1.0000],[436.70,0.9994],[436.75,0.9988],
    [436.80,0.9983],[436.90,0.9978],[437.00,0.9980],[437.10,0.9982],[437.30,0.9985],[437.50,0.9988],[437.70,0.9990],[437.90,0.9992],
    [438.2,0.9995],[438.5,0.9994],[438.8,0.9999],[439.1,0.9995],[439.4,0.9995],[439.7,1.0001],[440.0,0.9999],[440.3,1.0001],
    [440.6,0.9999],[440.9,1.0003],[441.2,1.0004],[441.5,0.9999],[441.8,1.0001],[442.1,1.0003],[442.4,0.9999],[442.7,1.0005],
    [443.0,1.0003],[443.3,1.0006],[443.6,1.0003],[443.9,1.0001],[444.2,1.0004],[444.5,1.0005],[444.8,0.9999],[445.1,1.0003],
    [445.4,1.0005],[445.7,1.0001],[446.0,1.0006],[446.3,0.9999],[446.6,1.0002],[446.9,0.9999],[447.2,1.0002],[447.5,0.9998],
    [447.8,1.0003],[448.1,0.9999],[448.4,1.0001],[448.7,1.0001],[449.0,0.9997],[449.3,1.0001],[449.6,1.0003],[449.9,0.9998],
    [450.2,0.9998],[450.5,1.0001],[450.8,1.0004],[451.1,0.9997],[451.4,1.0000],[451.7,1.0001],[452.0,0.9998],[452.3,0.9996],
    [452.6,1.0001],[452.9,1.0003],[453.2,0.9999],[453.5,1.0004],[453.8,1.0002],[454.1,1.0001],[454.4,1.0004],[454.7,0.9999],
    [455.0,1.0004],[455.3,1.0007],[455.6,1.0001],[455.9,1.0003],[456.2,1.0005],[456.5,1.0004],[456.8,1.0009],[457.1,1.0005],
    [457.4,1.0008],[457.7,1.0008],[458.0,1.0004],[458.3,1.0003],[458.6,0.9999],[458.9,1.0001],[459.2,1.0001],[459.5,0.9996],
    [459.8,0.9997],[460.1,0.9999],[460.4,0.9993],[460.7,0.9999],[461.0,0.9997],[461.3,1.0000],[461.6,0.9995],[461.9,0.9994],
    [462.2,0.9997],[462.5,0.9997],[462.8,0.9992],[462.95,0.9988],[463.00,0.9982],[463.05,0.9978],[463.10,0.9986],
    [463.3,1.0006],[463.6,1.0009],[463.9,1.0006],[464.2,1.0010],[464.5,1.0003],[464.8,1.0004],[465.1,0.9999],[465.3,0.9997],
    [465.5,0.9992],[465.7,0.9986],[465.8,0.9982],[465.9,0.9978],[466.0,0.9974],[466.1,0.9970],[466.2,0.9967],[466.3,0.9964],
    [468.10,1.0028],[468.15,1.0022],[468.20,1.0016],[468.25,1.0010],[468.30,1.0004],[468.40,0.9996],[468.50,0.9990],[468.60,0.9986],
    [468.70,0.9983],[468.80,0.9982],[468.90,0.9984],[469.00,0.9988],[469.20,0.9992],[469.40,0.9996],[469.60,0.9998],
    [469.9,1.0001],[470.2,0.9999],[470.5,1.0003],[470.8,0.9999],[471.1,1.0001],[471.4,1.0001],[471.7,0.9997],[472.0,1.0003],
    [472.3,1.0005],[472.6,0.9999],[472.9,0.9998],[473.2,1.0002],[473.5,1.0004],[473.8,0.9997],[474.1,1.0000],[474.4,1.0003],
    [474.7,1.0000],[475.0,0.9996],[475.3,1.0000],[475.6,1.0001],[475.9,0.9997],[476.2,1.0003],[476.5,1.0000],[476.8,0.9998],
    [477.1,1.0001],[477.4,0.9997],[477.7,1.0002],[478.0,1.0005],[478.3,1.0000],[478.6,1.0002],[478.9,1.0003],[479.2,1.0001],
    [479.5,1.0004],[479.8,0.9999],[480.1,0.9997],[480.4,1.0001],[480.7,0.9999],[481.0,0.9999],[481.3,0.9997],[481.6,0.9999],
    [481.9,0.9996],[482.2,0.9996],[482.5,0.9998],[482.8,1.0001],[483.1,0.9997],[483.4,1.0003],[483.7,1.0001],[484.0,1.0004],
    [484.3,0.9999],[484.6,0.9998],[484.9,1.0000],[485.2,1.0000],[485.5,0.9994],[485.8,0.9997],[486.1,1.0000],[486.4,0.9998],
    [486.7,1.0004],[487.0,0.9999],[487.3,1.0003],[487.6,1.0001],[487.9,1.0004],[488.2,1.0002],[488.5,1.0006],[488.8,1.0001],
    [489.1,1.0002],[489.4,1.0003],[489.7,0.9999],[490.0,1.0003],[490.3,1.0005],[490.6,1.0001],[490.9,1.0000],[491.2,1.0004],
    [491.5,1.0006],[491.8,0.9999],[492.1,1.0002],[492.4,1.0004],[492.7,1.0000],[493.0,0.9997],[493.3,1.0002],[493.6,1.0004],
    [493.9,1.0000],[494.2,1.0004],[494.5,1.0001],[494.8,0.9999],[495.1,1.0002],[495.4,0.9996],[495.7,1.0000],[496.0,1.0004],
    [496.3,0.9998],[496.6,0.9999],[496.9,1.0000],[497.2,0.9999],[497.5,1.0003],[497.8,0.9998],
    // interleaved cadence
    [408.25,1.0000],[408.55,1.0008],[408.85,1.0005],[409.15,1.0002],[409.45,1.0011],[409.75,1.0001],[410.05,1.0004],[410.35,1.0008],
    [410.65,1.0000],[410.95,1.0005],[411.25,0.9997],[411.55,1.0007],[411.85,1.0001],[412.15,1.0004],[412.45,0.9997],[412.75,1.0001],
    [413.05,1.0005],[413.35,0.9997],[413.65,0.9994],[413.95,1.0000],[414.25,1.0002],[414.55,0.9994],[414.85,0.9996],[415.15,1.0002],
    [415.45,0.9993],[415.75,0.9991],[416.05,0.9999],[416.35,0.9995],[416.65,1.0002],[416.95,0.9992],[417.25,1.0000],[417.55,0.9999],
    [417.85,0.9997],[418.15,1.0005],[418.45,0.9996],[418.75,1.0003],[419.05,1.0006],[419.35,1.0001],[419.65,1.0009],[419.95,1.0002],
    [420.25,0.9998],[420.55,1.0004],[420.85,1.0008],[421.15,1.0000],[421.45,1.0003],[421.75,0.9997],[422.05,1.0006],[422.35,1.0003],
    [422.65,1.0001],[422.95,1.0006],[423.25,0.9997],[423.55,1.0005],[423.85,1.0002],[424.15,0.9999],[424.45,1.0008],[424.75,0.9998],
    [425.05,1.0001],[425.35,1.0005],[425.65,0.9997],[425.95,1.0001],[426.25,0.9993],[426.55,1.0003],[426.85,0.9997],[427.15,1.0001],
    [427.45,0.9994],[427.75,1.0000],[428.05,1.0004],[428.35,0.9997],[428.65,0.9994],[428.95,1.0002],[429.25,1.0004],[429.55,0.9996],
    [429.85,1.0001],[430.15,1.0009],[430.45,1.0001],[430.75,0.9999],[431.05,1.0005],[431.35,1.0000],[431.65,1.0005],[431.95,0.9997],
    [432.25,1.0006],[432.55,1.0005],[432.85,1.0002],[433.15,1.0008],[433.45,0.9997],
    [433.75,1.0001],[434.0,0.9994],[434.2,0.9993],[434.4,0.9987],[434.55,0.9987],[434.65,0.9979],[434.75,0.9982],[434.85,0.9973],
    [434.95,0.9978],[435.05,0.9969],[435.15,0.9976],[435.25,0.9966],
    [436.42,1.0027],[436.48,1.0022],[436.52,1.0016],[436.58,1.0009],[436.62,1.0003],[436.68,0.9997],[436.72,0.9991],[436.78,0.9985],
    [436.85,0.9980],[436.95,0.9983],[437.05,0.9977],[437.2,0.9986],[437.4,0.9983],[437.6,0.9991],[437.8,0.9988],[438.05,0.9994],
    [438.35,0.9995],[438.65,1.0000],[438.95,0.9994],[439.25,0.9992],[439.55,1.0000],[439.85,1.0003],[440.15,0.9996],[440.45,1.0000],
    [440.75,1.0006],[441.05,0.9999],[441.35,0.9997],[441.65,1.0004],[441.95,1.0001],[442.25,1.0007],[442.55,0.9998],[442.85,1.0005],
    [443.15,1.0003],[443.45,1.0000],[443.75,1.0008],[444.05,0.9997],[444.35,1.0004],[444.65,1.0006],[444.95,1.0000],[445.25,1.0009],
    [445.55,1.0002],[445.85,0.9998],[446.15,1.0004],[446.45,1.0006],[446.75,0.9998],[447.05,1.0000],[447.35,0.9995],[447.65,1.0003],
    [447.95,1.0001],[448.25,0.9999],[448.55,1.0004],[448.85,0.9995],[449.15,1.0003],[449.45,1.0000],[449.75,0.9997],[450.05,1.0005],
    [450.35,0.9996],[450.65,1.0000],[450.95,1.0005],[451.25,0.9997],[451.55,1.0002],[451.85,0.9993],[452.15,1.0004],[452.45,0.9999],
    [452.75,1.0003],[453.05,0.9997],[453.35,1.0002],[453.65,1.0006],[453.95,1.0000],[454.25,0.9997],[454.55,1.0004],[454.85,1.0006],
    [455.15,1.0000],[455.45,1.0003],[455.75,1.0009],[456.05,1.0001],[456.35,1.0000],[456.65,1.0008],[456.95,1.0005],[457.25,1.0012],
    [457.55,1.0002],[457.85,1.0008],[458.15,1.0004],[458.45,0.9999],[458.75,1.0004],[459.05,0.9993],[459.35,0.9999],[459.65,1.0001],
    [459.95,0.9996],[460.25,1.0004],[460.55,0.9996],[460.85,0.9993],[461.15,0.9999],[461.45,1.0002],[461.75,0.9993],[462.05,0.9996],
    [462.35,0.9991],[462.65,0.9999],[462.9,0.9985],[463.02,0.9976],[463.08,0.9981],[463.2,1.0003],
    [463.45,1.0008],[463.75,1.0005],[464.05,1.0010],[464.35,1.0001],[464.65,1.0007],[464.95,1.0003],
    [465.2,0.9995],[465.4,0.9993],[465.6,0.9986],[465.75,0.9980],[465.85,0.9983],[465.95,0.9973],[466.05,0.9975],[466.15,0.9966],
    [466.25,0.9969],
    [468.12,1.0024],[468.18,1.0020],[468.22,1.0012],[468.28,1.0008],[468.35,1.0000],[468.45,0.9993],[468.55,0.9985],[468.65,0.9981],
    [468.75,0.9986],[468.85,0.9979],[468.95,0.9987],[469.1,0.9986],[469.3,0.9994],[469.5,0.9993],[469.75,1.0002],
    [470.05,0.9995],[470.35,1.0003],[470.65,0.9999],[470.95,1.0006],[471.25,0.9996],[471.55,1.0002],[471.85,1.0000],[472.15,0.9998],
    [472.45,1.0005],[472.75,0.9994],[473.05,1.0001],[473.35,1.0004],[473.65,0.9999],[473.95,1.0006],[474.25,0.9999],[474.55,0.9997],
    [474.85,1.0003],[475.15,1.0005],[475.45,0.9996],[475.75,0.9999],[476.05,0.9994],[476.35,1.0004],[476.65,1.0001],[476.95,0.9997],
    [477.25,1.0002],[477.55,0.9995],[477.85,1.0004],[478.15,1.0002],[478.45,1.0000],[478.75,1.0008],[479.05,0.9998],[479.35,1.0002],
    [479.65,1.0005],[479.95,0.9998],[480.25,1.0002],[480.55,0.9993],[480.85,1.0004],[481.15,0.9997],[481.45,1.0001],[481.75,0.9993],
    [482.05,0.9998],[482.35,1.0003],[482.65,0.9997],[482.95,0.9995],[483.25,1.0003],[483.55,1.0005],[483.85,0.9998],[484.15,1.0001],
    [484.45,1.0006],[484.75,0.9998],[485.05,0.9995],[485.35,1.0001],[485.65,0.9996],[485.95,1.0002],[486.25,0.9993],[486.55,1.0001],
    [486.85,1.0000],[487.15,0.9998],[487.45,1.0006],[487.75,0.9996],[488.05,1.0003],[488.35,1.0006],[488.65,1.0001],[488.95,1.0009],
    [489.25,1.0001],[489.55,0.9998],[489.85,1.0004],[490.15,1.0006],[490.45,0.9998],[490.75,1.0002],[491.05,0.9997],[491.35,1.0007],
    [491.65,1.0004],[491.95,1.0000],[492.25,1.0005],[492.55,0.9997],[492.85,1.0004],[493.15,1.0002],[493.45,0.9999],[493.75,1.0008],
    [494.05,0.9998],[494.35,1.0001],[494.65,1.0005],[494.95,0.9997],[495.25,1.0002],[495.55,0.9993],[495.85,1.0004],[496.15,0.9999],
    [496.45,1.0003],[496.75,0.9995],[497.05,1.0000],[497.35,1.0005],[497.65,0.9998],
    // wider scatter
    [408.18,1.0012],[408.78,0.9996],[409.38,1.0010],[409.98,0.9998],[410.58,1.0012],[411.18,0.9996],[411.78,1.0006],[412.38,0.9992],
    [412.98,1.0006],[413.58,0.9994],[414.18,1.0006],[414.78,0.9990],[415.38,0.9987],[415.98,1.0003],[416.58,1.0002],[417.18,0.9991],
    [417.78,1.0009],[418.38,0.9998],[418.98,0.9994],[419.58,1.0009],[420.18,0.9996],[420.78,1.0011],[421.38,0.9998],[421.98,1.0009],
    [422.58,0.9995],[423.18,1.0006],[423.78,0.9994],[424.38,1.0011],[424.98,0.9995],[425.58,1.0006],[426.18,1.0006],[426.78,0.9990],
    [427.38,1.0003],[427.98,0.9993],[428.58,1.0008],[429.18,0.9993],[429.78,1.0004],[430.38,0.9994],[430.98,1.0008],[431.58,0.9995],
    [432.18,1.0011],[432.78,0.9999],[433.38,0.9995],
    [438.48,1.0002],[439.08,1.0002],[439.68,0.9992],[440.28,1.0009],[440.88,0.9997],[441.48,0.9992],[442.08,1.0008],[442.68,0.9997],
    [443.28,1.0011],[443.88,0.9998],[444.48,1.0010],[445.08,0.9995],[445.68,1.0006],[446.28,0.9994],[446.88,1.0009],[447.48,0.9993],
    [448.08,1.0007],[448.68,1.0007],[449.28,0.9991],[449.88,1.0004],[450.48,0.9994],[451.08,1.0009],[451.68,0.9992],[452.28,1.0004],
    [452.88,0.9992],[453.48,1.0007],[454.08,0.9997],[454.68,1.0010],[455.28,0.9997],[455.88,0.9995],[456.48,1.0012],[457.08,1.0012],
    [457.68,0.9999],[458.28,1.0011],[458.88,0.9995],[459.48,0.9989],[460.08,1.0004],[460.68,0.9991],[461.28,1.0005],[461.88,0.9991],
    [462.48,1.0002],[463.58,0.9999],[464.18,1.0010],[464.78,0.9996],
    [470.08,1.0007],[470.68,0.9992],[471.28,1.0006],[471.88,0.9994],[472.48,1.0010],[473.08,0.9993],[473.68,1.0005],[474.28,0.9991],
    [474.88,1.0007],[475.48,0.9994],[476.08,1.0007],[476.68,0.9994],[477.28,0.9991],[477.88,1.0008],[478.48,1.0007],[479.08,0.9995],
    [479.68,1.0010],[480.28,0.9996],[480.88,0.9990],[481.48,1.0004],[482.08,0.9991],[482.68,1.0007],[483.28,0.9996],[483.88,1.0008],
    [484.48,0.9992],[485.08,1.0003],[485.68,0.9990],[486.28,1.0007],[486.88,0.9994],[487.48,1.0008],[488.08,1.0009],[488.68,0.9995],
    [489.28,1.0007],[489.88,0.9996],[490.48,1.0010],[491.08,0.9995],[491.68,1.0007],[492.28,0.9993],[492.88,1.0007],[493.48,0.9996],
    [494.08,1.0010],[494.68,0.9995],[495.28,0.9992],[495.88,1.0006],[496.48,1.0005],[497.08,0.9992],[497.68,1.0009],
    // isolated points
    [409.8,1.0011],[410.3,0.9992],[415.6,0.9986],[421.8,1.0012],[443.9,1.0020],[446.0,0.9987],[451.8,1.0013],
    [459.3,0.9984],[464.9,1.0022],[476.3,1.0011],[489.0,1.0011],[493.6,1.0012],[484.7,0.9987],[476.5,0.9988]
];

var quarterNames = ["Q4", "Q5", "Q6"];
var quarterDayRanges = [[220.5, 310.65], [312.0, 406.8], [408.1, 497.8]];
var quarterDayLabels = [[240, 260, 280, 300], [320, 340, 360, 380, 400], [420, 440, 460, 480]];
var flareDays = [268.2, 365.7, 463.1];
var fluxTicks = [0.996, 0.997, 0.998, 0.999, 1.000, 1.001, 1.002, 1.003];
var fluxError = 0.00034;


/*
 *  LightCurveVis - one quarter of the light curve
 */
LightCurveVis = function(_svg, _top, _name, _data, _range, _labels, _flare) {
    this.svg = _svg;
    this.top = _top;
    this.name = _name;
    this.data = _data;
    this.range = _range;
    this.labels = _labels;
    this.flare = _flare;

    this.initVis();
};

LightCurveVis.prototype.initVis = function() {
    var vis = this;

    vis.left = 151;
    vis.width = 1103;
    vis.height = 237;

    vis.g = vis.svg.append("g")
        .attr("transform", "translate(" + vis.left + "," + vis.top + ")");

    vis.x = d3.scaleLinear().domain(vis.range).range([0, vis.width]);
    vis.y = d3.scaleLinear().domain([0.996, 1.003]).range([vis.height, 0]);

    vis.clipId = "clip-" + vis.name;
    vis.g.append("clipPath").attr("id", vis.clipId)
        .append("rect")
        .attr("width", vis.width)
        .attr("height", vis.height);

    vis.plot = vis.g.append("g").attr("clip-path", "url(#" + vis.clipId + ")");

    vis.updateVis();
};

LightCurveVis.prototype.updateVis = function() {
    var vis = this;

    // error bars
    vis.plot.selectAll(".errbar")
        .data(vis.data)
        .enter().append("path")
        .attr("class", "errbar")
        .attr("d", function(d) {
            var x = vis.x(d[0]);
            var y0 = vis.y(d[1] - fluxError);
            var y1 = vis.y(d[1] + fluxError);
            return "M" + x + "," + y0 + "V" + y1 +
                "M" + (x - 6) + "," + y0 + "H" + (x + 6) +
                "M" + (x - 6) + "," + y1 + "H" + (x + 6);
        })
        .attr("fill", "none")
        .attr("stroke", "#7b8b9c")
        .attr("stroke-width", 2.1);

    // points
    vis.plot.selectAll(".pt")
        .data(vis.data)
        .enter().append("rect")
        .attr("class", "pt")
        .attr("x", function(d) { return vis.x(d[0]) - 1.2; })
        .attr("y", function(d) { return vis.y(d[1]) - 1.2; })
        .attr("width", 2.4)
        .attr("height", 2.4)
        .attr("fill", "#111");

    // flare marker
    vis.g.append("line")
        .attr("x1", vis.x(vis.flare)).attr("x2", vis.x(vis.flare))
        .attr("y1", 0).attr("y2", vis.height)
        .attr("stroke", "#e0432d")
        .attr("stroke-width", 2)
        .attr("stroke-dasharray", "8,6");

    var minorFlux = d3.range(0, 141).map(function(i) { return 0.996 + i * 0.00005; });
    var fiveDays = d3.range(Math.ceil(vis.range[0] / 5) * 5, vis.range[1], 5);

    function ticksOnly(axis, size, values) {
        return axis.tickValues(values).tickSize(size).tickFormat("");
    }

    var tickGroups = [
        [ticksOnly(d3.axisRight(vis.y), 20, fluxTicks), 0, 0],
        [ticksOnly(d3.axisRight(vis.y), 10, minorFlux), 0, 0],
        [ticksOnly(d3.axisLeft(vis.y), 20, fluxTicks), vis.width, 0],
        [ticksOnly(d3.axisLeft(vis.y), 10, minorFlux), vis.width, 0],
        [ticksOnly(d3.axisTop(vis.x), 5, fiveDays), 0, vis.height],
        [ticksOnly(d3.axisBottom(vis.x), 5, fiveDays), 0, 0]
    ];
    tickGroups.forEach(function(t) {
        var a = vis.g.append("g")
            .attr("transform", "translate(" + t[1] + "," + t[2] + ")")
            .call(t[0]);
        a.select(".domain").remove();
        a.selectAll("line").attr("stroke", "#111").attr("shape-rendering", "crispEdges");
    });

    // tick labels
    var yLab = vis.g.append("g")
        .call(d3.axisLeft(vis.y).tickValues(fluxTicks).tickSize(0).tickPadding(9).tickFormat(d3.format(".3f")));
    yLab.select(".domain").remove();
    yLab.selectAll("text").attr("font-size", 18).attr("font-family", "Open Sans").attr("fill", "#222");

    var xLab = vis.g.append("g")
        .attr("transform", "translate(0," + vis.height + ")")
        .call(d3.axisBottom(vis.x).tickValues(vis.labels).tickSize(0).tickPadding(6).tickFormat(d3.format("d")));
    xLab.select(".domain").remove();
    xLab.selectAll("text").attr("font-size", 18).attr("font-family", "Open Sans").attr("fill", "#222");

    // frame
    vis.g.append("rect")
        .attr("width", vis.width)
        .attr("height", vis.height)
        .attr("fill", "none")
        .attr("stroke", "#222")
        .attr("stroke-width", 2);

    vis.g.append("text")
        .attr("x", 21)
        .attr("y", vis.height - 10)
        .attr("font-size", 30)
        .attr("fill", "#111")
        .text(vis.name);
};


var svg = d3.select("#chart").append("svg")
    .attr("width", 1348)
    .attr("height", 1049);

svg.append("rect").attr("width", 1348).attr("height", 1049).attr("fill", "#fff");
svg.append("rect").attr("width", 1348).attr("height", 4).attr("fill", "#000");
svg.append("rect").attr("width", 3).attr("height", 1049).attr("fill", "#000");

var panelTops = [123, 410, 700];
var allPoints = [q4Points, q5Points, q6Points];

quarterNames.forEach(function(name, i) {
    new LightCurveVis(svg, panelTops[i], name, allPoints[i],
        quarterDayRanges[i], quarterDayLabels[i], flareDays[i]);
});

svg.append("text")
    .attr("transform", "translate(70,555) rotate(-90)")
    .attr("text-anchor", "middle")
    .attr("font-size", 54)
    .attr("fill", "#111")
    .text("Relative Flux");

svg.append("text")
    .attr("x", 658)
    .attr("y", 1018)
    .attr("text-anchor", "middle")
    .attr("font-size", 52)
    .attr("letter-spacing", 0.5)
    .attr("fill", "#111")
    .text("Days from Quarter 1");

</script>
</body>
</html>
